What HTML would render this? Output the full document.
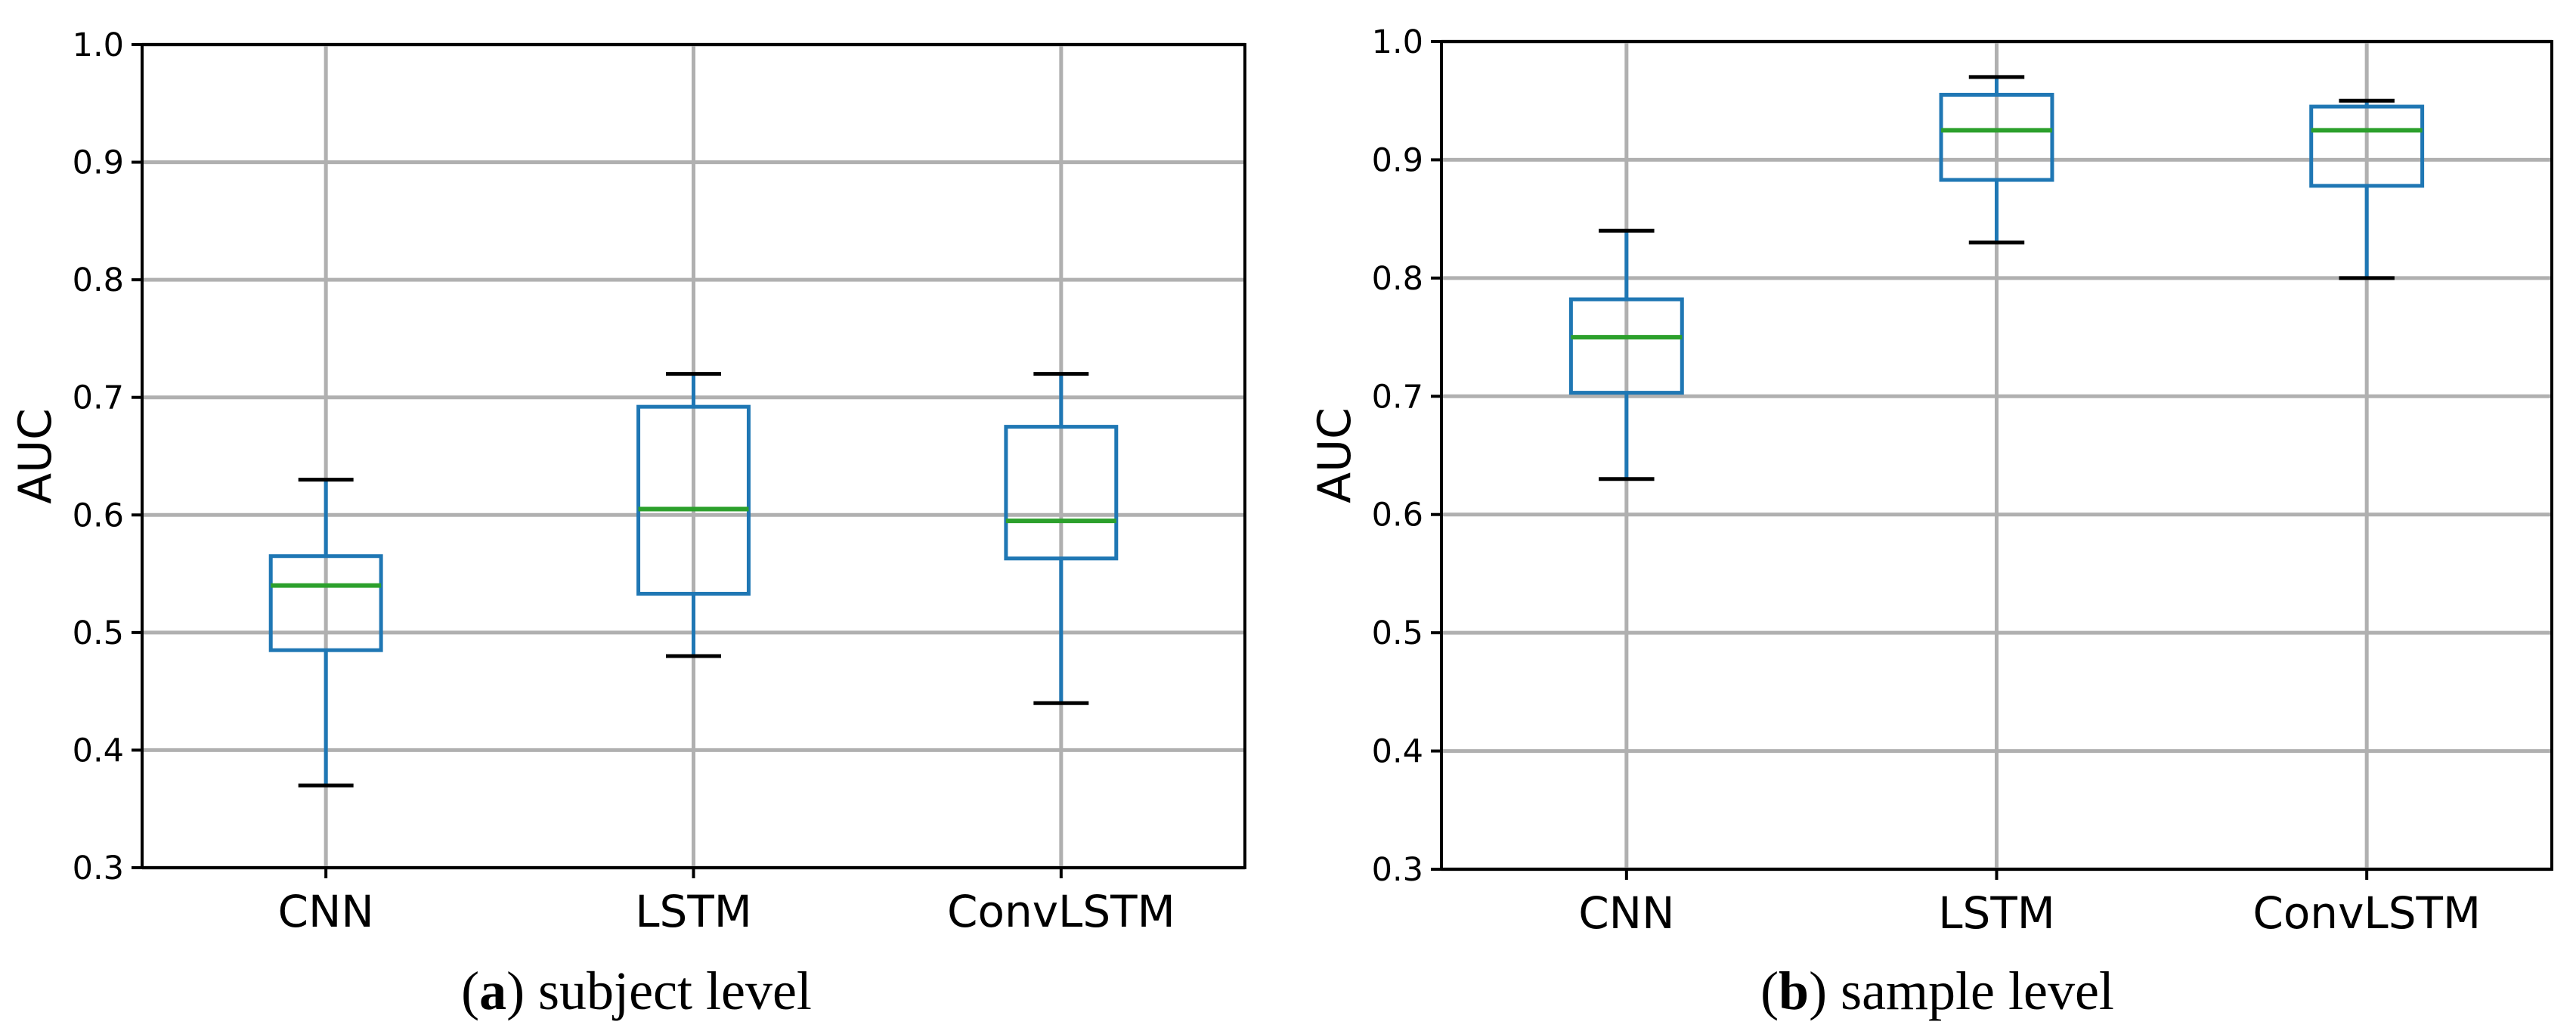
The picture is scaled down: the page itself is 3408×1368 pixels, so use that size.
<!DOCTYPE html>
<html><head><meta charset="utf-8"><style>
html,body{margin:0;padding:0;background:#fff;}
svg{display:block;}
</style></head><body>
<svg id="fig" width="3408" height="1368" viewBox="0 0 3408 1368" xmlns="http://www.w3.org/2000/svg"></svg>
<script>
const categories = ["CNN", "LSTM", "ConvLSTM"];
const yTicks = [0.3, 0.4, 0.5, 0.6, 0.7, 0.8, 0.9, 1.0];
const yTickLabels = ["0.3", "0.4", "0.5", "0.6", "0.7", "0.8", "0.9", "1.0"];
// subject level
const subjWhiskerLow = [0.37, 0.48, 0.44];
const subjQ1 = [0.485, 0.533, 0.563];
const subjMedian = [0.54, 0.605, 0.595];
const subjQ3 = [0.565, 0.692, 0.675];
const subjWhiskerHigh = [0.63, 0.72, 0.72];
// sample level
const sampWhiskerLow = [0.63, 0.83, 0.80];
const sampQ1 = [0.703, 0.883, 0.878];
const sampMedian = [0.75, 0.925, 0.925];
const sampQ3 = [0.782, 0.955, 0.945];
const sampWhiskerHigh = [0.84, 0.97, 0.95];

const NS = "http://www.w3.org/2000/svg";
const svg = document.getElementById("fig");
function mk(tag, attrs, parent, text) {
  const e = document.createElementNS(NS, tag);
  for (const k in attrs) e.setAttribute(k, attrs[k]);
  if (text !== undefined) e.textContent = text;
  (parent || svg).appendChild(e);
  return e;
}

function panel(id, L, T, R, B, low, q1, med, q3, high, capX, capBold, capText, labelX) {
  const g = mk("g", {});
  
  
  const ymin = 0.3, ymax = 1.0;
  const y = v => B - (v - ymin) / (ymax - ymin) * (B - T);
  const step = (R - L) / categories.length;
  const x = i => L + (i + 0.5) * step;
  yTicks.forEach((t, i) => {
    const gl = mk("line", {x1: L, x2: R, y1: y(t), y2: y(t), stroke: "#b0b0b0", "stroke-width": 5}, g);
    
    
  });
  categories.forEach((c, i) => {
    const gl = mk("line", {x1: x(i), x2: x(i), y1: T, y2: B, stroke: "#b0b0b0", "stroke-width": 5}, g);
    
    
  });
  categories.forEach((c, i) => {
    const bg = mk("g", {}, g);
    
    
    const bw = step * 0.3, cw = step * 0.15, cx = x(i);
    mk("line", {x1: cx, x2: cx, y1: y(low[i]), y2: y(q1[i]), stroke: "#1f77b4", "stroke-width": 5}, bg);
    mk("line", {x1: cx, x2: cx, y1: y(q3[i]), y2: y(high[i]), stroke: "#1f77b4", "stroke-width": 5}, bg);
    mk("line", {x1: cx - cw/2, x2: cx + cw/2, y1: y(low[i]), y2: y(low[i]), stroke: "#000", "stroke-width": 5}, bg);
    mk("line", {x1: cx - cw/2, x2: cx + cw/2, y1: y(high[i]), y2: y(high[i]), stroke: "#000", "stroke-width": 5}, bg);
    mk("rect", {x: cx - bw/2, y: y(q3[i]), width: bw, height: y(q1[i]) - y(q3[i]), fill: "none", stroke: "#1f77b4", "stroke-width": 5}, bg);
    mk("line", {x1: cx - bw/2, x2: cx + bw/2, y1: y(med[i]), y2: y(med[i]), stroke: "#2ca02c", "stroke-width": 6}, bg);
  });
  const fr = mk("rect", {x: L, y: T, width: R - L, height: B - T, fill: "none", stroke: "#000", "stroke-width": 4}, g);
  
  
  yTicks.forEach((t, i) => {
    mk("line", {x1: L - 14, x2: L, y1: y(t), y2: y(t), stroke: "#000", "stroke-width": 4}, g);
    const tl = mk("text", {x: L - 24, y: y(t) + 15, "text-anchor": "end", "font-family": "DejaVu Sans, sans-serif", "font-size": 43}, g, yTickLabels[i]);
    
    
  });
  categories.forEach((c, i) => {
    mk("line", {x1: x(i), x2: x(i), y1: B, y2: B + 14, stroke: "#000", "stroke-width": 4}, g);
    const tl = mk("text", {x: x(i), y: B + 78, "text-anchor": "middle", "font-family": "DejaVu Sans, sans-serif", "font-size": 58}, g, c);
    
    
  });
  const yl = mk("text", {x: 0, y: 0, transform: `translate(${labelX},${(T + B) / 2}) rotate(-90)`, "text-anchor": "middle", "font-family": "DejaVu Sans, sans-serif", "font-size": 60}, g, "AUC");
  
  
  const cap = mk("text", {x: capX, y: 1335, "text-anchor": "middle", "font-family": "Liberation Serif, serif", "font-size": 72}, g);
  
  
  mk("tspan", {}, cap, "(");
  mk("tspan", {"font-weight": "bold"}, cap, capBold);
  mk("tspan", {}, cap, ") " + capText);
}

panel("subject-level", 188, 59, 1647, 1148, subjWhiskerLow, subjQ1, subjMedian, subjQ3, subjWhiskerHigh, 842, "a", "subject level", 67);
panel("sample-level", 1907, 55, 3376, 1150, sampWhiskerLow, sampQ1, sampMedian, sampQ3, sampWhiskerHigh, 2563, "b", "sample level", 1786);
</script>
</body></html>
